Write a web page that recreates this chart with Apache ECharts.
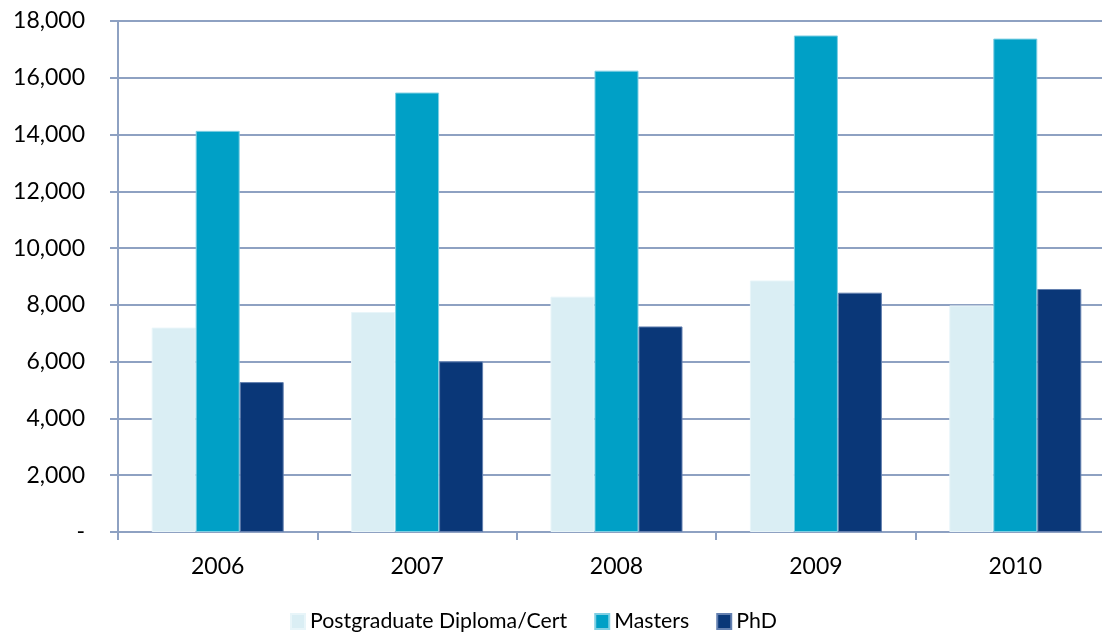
<!DOCTYPE html>
<html>
<head>
<meta charset="utf-8">
<script src="https://cdn.jsdelivr.net/npm/echarts@6/dist/echarts.min.js"></script>
<style>
html,body{margin:0;padding:0;background:#fff;overflow:hidden;}
#chart{width:1102px;height:636px;}
</style>
</head>
<body>
<div id="chart"></div>
<script>
const categories = ['2006', '2007', '2008', '2009', '2010'];
const seriesNames = ['Postgraduate Diploma/Cert', 'Masters', 'PhD'];
const diplomaValues = [7200, 7750, 8290, 8860, 7980];
const mastersValues = [14130, 15480, 16250, 17490, 17380];
const phdValues = [5280, 6010, 7240, 8430, 8560];
const yTickLabels = ['-', '2,000', '4,000', '6,000', '8,000', '10,000', '12,000', '14,000', '16,000', '18,000'];

const font = 'Lato, "Open Sans", sans-serif';
const axisColor = '#8EA1C2';
const chart = echarts.init(document.getElementById('chart'), null, {renderer: 'canvas'});
chart.setOption({
  animation: false,
  backgroundColor: '#ffffff',
  textStyle: {fontFamily: font},
  grid: {left: 118, width: 997, top: 21, height: 511, containLabel: false, outerBoundsMode: 'none'},
  legend: {
    left: 285, top: 606,
    itemWidth: 14, itemHeight: 15, itemGap: 27,
    icon: 'rect',
    textStyle: {fontFamily: font, fontSize: 21.3, color: '#000'},
    data: seriesNames
  },
  xAxis: {
    type: 'category',
    data: categories,
    axisLine: {show: true, lineStyle: {color: axisColor, width: 2}},
    axisTick: {show: true, length: 8, alignWithLabel: false, lineStyle: {color: axisColor, width: 2}},
    axisLabel: {fontFamily: font, fontSize: 23, color: '#000', margin: 23},
    splitLine: {show: false}
  },
  yAxis: {
    type: 'value',
    min: 0, max: 18000, interval: 2000,
    axisLine: {show: true, lineStyle: {color: axisColor, width: 2}},
    axisTick: {show: true, length: 8, lineStyle: {color: axisColor, width: 2}},
    axisLabel: {
      fontFamily: font, fontSize: 23, color: '#000', margin: 33,
      formatter: function (v) { return yTickLabels[Math.round(v / 2000)]; }
    },
    splitLine: {show: true, lineStyle: {color: axisColor, width: 2}}
  },
  series: [
    {
      name: seriesNames[0], type: 'bar', data: diplomaValues,
      barGap: '0%', barCategoryGap: '33.8%',
      itemStyle: {color: '#DAEEF4', borderColor: '#e8f5f9', borderWidth: 1}
    },
    {
      name: seriesNames[1], type: 'bar', data: mastersValues,
      barGap: '0%', barCategoryGap: '33.8%',
      itemStyle: {color: '#00A0C6', borderColor: '#7fcfe3', borderWidth: 1}
    },
    {
      name: seriesNames[2], type: 'bar', data: phdValues,
      barGap: '0%', barCategoryGap: '33.8%',
      itemStyle: {color: '#0A3778', borderColor: '#6480b0', borderWidth: 1}
    }
  ]
});
</script>
</body>
</html>
